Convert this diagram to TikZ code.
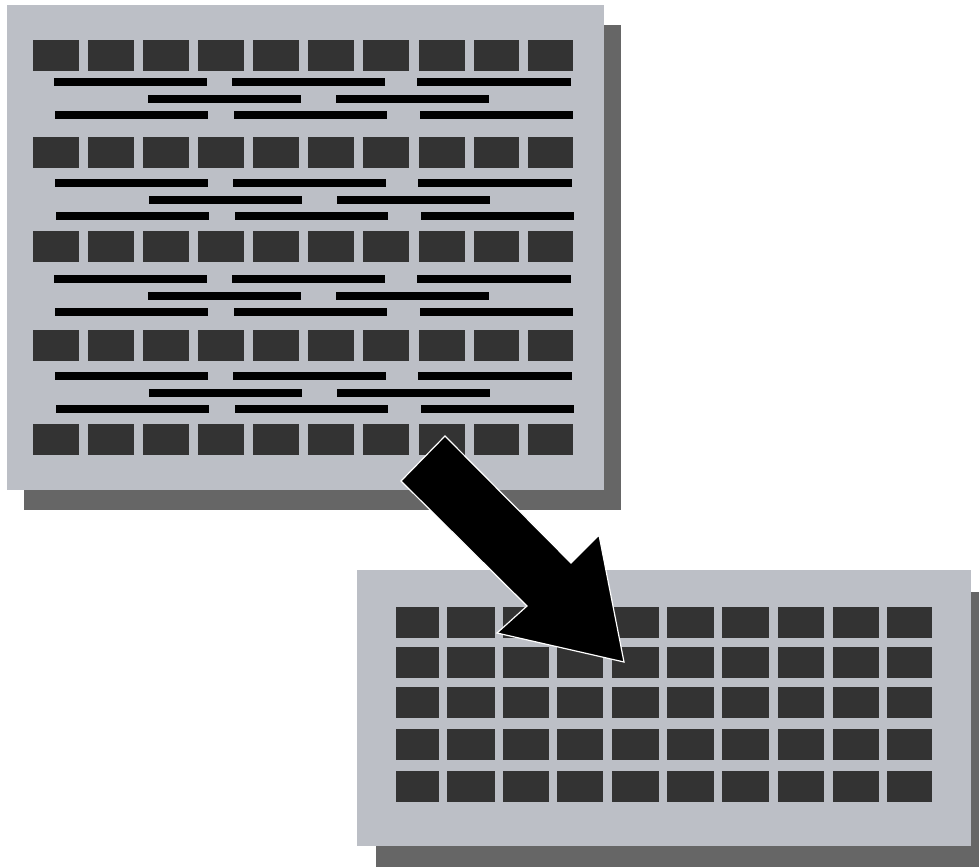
\documentclass[tikz,border=0pt]{standalone}
\usepackage{tikz}
\definecolor{panelgray}{HTML}{BCBFC6}
\definecolor{shadowgray}{HTML}{666666}
\definecolor{blockgray}{HTML}{333333}
\tikzset{
  panel/.style={fill=panelgray, draw=none},
  shadowbox/.style={fill=shadowgray, draw=none},
  blockbox/.style={fill=blockgray, draw=none},
  barline/.style={fill=black, draw=none},
  bigarrow/.style={fill=black, draw=white, line width=1.2pt, line join=miter}
}
\newcommand{\barrow}[2]{% y, xshift
  \foreach \a/\b in {54/207,232/385,417/571}{\fill[barline] ({\a+#2},#1) rectangle ({\b+#2},{#1+8});}
  \foreach \a/\b in {148/301,336/489}{\fill[barline] ({\a+#2},{#1+17}) rectangle ({\b+#2},{#1+25});}
  \foreach \a/\b in {55/208,234/387,420/573}{\fill[barline] ({\a+#2},{#1+33}) rectangle ({\b+#2},{#1+41});}
}
\begin{document}
\begin{tikzpicture}[x=1pt,y=-1pt]
\useasboundingbox (0,0) rectangle (979,867);
% top panel
\fill[shadowbox] (24,25) rectangle (621,510);
\fill[panel] (7,5) rectangle (604,490);
\foreach \y in {40,137,231,330,424}{
  \foreach \a/\b in {33/79,88/134,143/189,198/244,253/299,308/354,363/409,419/465,474/519,528/573}{
    \fill[blockbox] (\a,\y) rectangle (\b,{\y+31});
  }
}
\barrow{78}{0}
\barrow{179}{1}
\barrow{275}{0}
\barrow{372}{1}
% bottom panel
\fill[shadowbox] (376,592) rectangle (979,867);
\fill[panel] (357,570) rectangle (971,846);
\foreach \y in {607,647,687,729,771}{
  \foreach \a/\b in {396/439,447/495,503/549,557/603,612/659,667/714,722/769,778/824,833/879,887/932}{
    \fill[blockbox] (\a,\y) rectangle (\b,{\y+31});
  }
}
% arrow
\coordinate (t1) at (445,436);
\coordinate (t2) at (401,481);
\coordinate (j1) at (571,563);
\coordinate (h1) at (599,535);
\coordinate (tip) at (624,662);
\coordinate (h2) at (497,633);
\coordinate (j2) at (527,606);
\draw[bigarrow] (t1) -- (j1) -- (h1) -- (tip) -- (h2) -- (j2) -- (t2) -- cycle;
\end{tikzpicture}
\end{document}
